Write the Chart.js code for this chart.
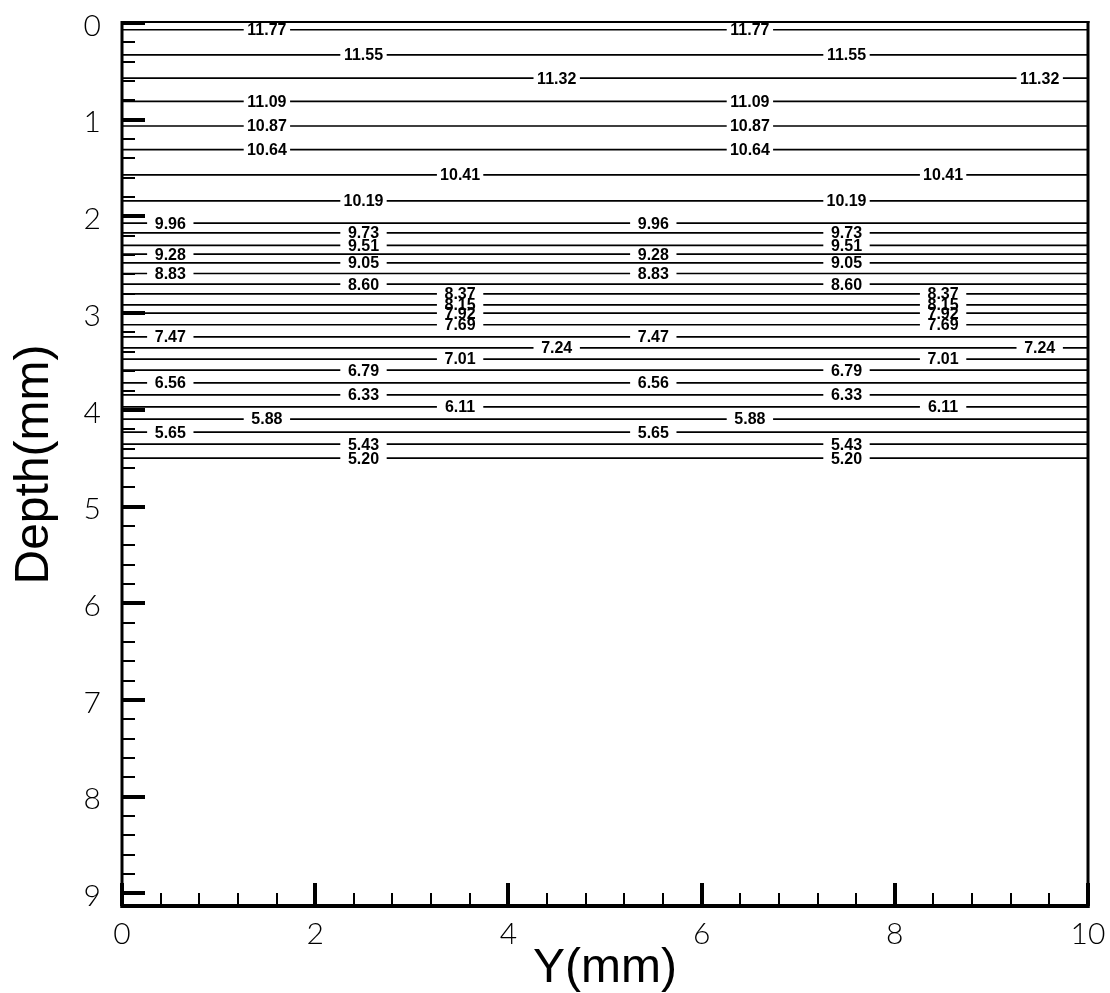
<!DOCTYPE html>
<html>
<head>
<meta charset="utf-8">
<title>Depth contours</title>
<script src="https://cdn.jsdelivr.net/npm/chart.js@4.4.0/dist/chart.umd.min.js"></script>
<style>
  html, body { margin: 0; padding: 0; background: #fff; }
  #wrap { width: 1110px; height: 993px; }
</style>
</head>
<body>
<div id="wrap"><canvas id="chart" width="1110" height="993"></canvas></div>
<script>
// Contour levels, top to bottom
const levels = ['11.77', '11.55', '11.32', '11.09', '10.87', '10.64', '10.41', '10.19',
  '9.96', '9.73', '9.51', '9.28', '9.05', '8.83', '8.60', '8.37', '8.15', '7.92', '7.69',
  '7.47', '7.24', '7.01', '6.79', '6.56', '6.33', '6.11', '5.88', '5.65', '5.43', '5.20'];

// Depth (mm) of each contour line
const depths = [0.07, 0.33, 0.57, 0.81, 1.065, 1.31, 1.57, 1.84,
  2.07, 2.17, 2.30, 2.39, 2.48, 2.59, 2.70, 2.80, 2.915, 3.0, 3.12,
  3.245, 3.36, 3.475, 3.59, 3.72, 3.845, 3.97, 4.095, 4.23, 4.355, 4.50];

// Y (mm) of the first inline label on each contour; the second sits 5 mm further on
const firstLabelY = [1.5, 2.5, 4.5, 1.5, 1.5, 1.5, 3.5, 2.5,
  0.5, 2.5, 2.5, 0.5, 2.5, 0.5, 2.5, 3.5, 3.5, 3.5, 3.5,
  0.5, 4.5, 3.5, 2.5, 0.5, 2.5, 3.5, 1.5, 0.5, 2.5, 2.5];
const labelSpacing = 5;

// Axis extents and tick labels
const yRange = [0, 10];
const depthRange = [0, 9.13];
const yTickLabels = [0, 2, 4, 6, 8, 10];
const depthTickLabels = [0, 1, 2, 3, 4, 5, 6, 7, 8, 9];

const LABEL_GAP = 0.24;      // half-width of the break in a line around its label (mm)
const LABEL_FONT = 'bold 16px "Liberation Sans", Arial, sans-serif';
const TICK_FONT = { family: 'Lato, "Liberation Sans", sans-serif', size: 30, weight: '300' };
const TITLE_FONT = { family: '"Liberation Sans", Arial, sans-serif', size: 48, weight: 'normal', lineHeight: 1 };

function labelPositions(i) {
  return [firstLabelY[i], firstLabelY[i] + labelSpacing];
}

// Each contour is a flat line broken where its labels sit
const datasets = levels.map((lvl, i) => {
  const d = depths[i];
  const pts = [{ x: yRange[0], y: d }];
  labelPositions(i).forEach(p => {
    pts.push({ x: p - LABEL_GAP, y: d });
    pts.push({ x: p, y: null });
    pts.push({ x: p + LABEL_GAP, y: d });
  });
  pts.push({ x: yRange[1], y: d });
  return {
    label: lvl,
    data: pts,
    borderColor: '#000',
    borderWidth: 1.7,
    pointRadius: 0,
    spanGaps: false,
    tension: 0,
    fill: false
  };
});

// Inline contour value labels
const contourLabels = {
  id: 'contourLabels',
  afterDatasetsDraw(chart) {
    const { ctx, scales: { x, y } } = chart;
    ctx.save();
    ctx.font = LABEL_FONT;
    ctx.fillStyle = '#000';
    ctx.textAlign = 'center';
    ctx.textBaseline = 'middle';
    levels.forEach((lvl, i) => {
      const py = y.getPixelForValue(depths[i]);
      labelPositions(i).forEach(p => {
        ctx.fillText(lvl, x.getPixelForValue(p), py + 1);
      });
    });
    ctx.restore();
  }
};

// Heavy frame with inward major and minor ticks
const frameTicks = {
  id: 'frameTicks',
  afterDraw(chart) {
    const { ctx, chartArea: a, scales: { x, y } } = chart;
    ctx.save();
    ctx.strokeStyle = '#000';
    ctx.lineCap = 'butt';
    const line = (x1, y1, x2, y2, w) => {
      ctx.lineWidth = w;
      ctx.beginPath();
      ctx.moveTo(x1, y1);
      ctx.lineTo(x2, y2);
      ctx.stroke();
    };
    // minor/major ticks along the depth axis
    for (let k = 0; k * 0.2 <= depthRange[1] + 1e-9; k++) {
      const v = k * 0.2;
      const major = k % 5 === 0;
      const py = Math.round(y.getPixelForValue(v));
      line(a.left, py, a.left + (major ? 23 : 13), py, major ? 4 : 2);
    }
    // minor/major ticks along the Y axis
    for (let k = 0; k * 0.4 <= yRange[1] + 1e-9; k++) {
      const v = k * 0.4;
      const major = k % 5 === 0;
      const px = Math.round(x.getPixelForValue(v));
      line(px, a.bottom, px, a.bottom - (major ? 23 : 13), major ? 4 : 2);
    }
    // frame
    line(a.left, a.top - 1, a.right + 1.5, a.top - 1, 2);
    line(a.right, a.top - 2, a.right, a.bottom + 2, 3);
    line(a.left, a.top - 2, a.left, a.bottom + 2, 3);
    line(a.left - 1.5, a.bottom, a.right + 1.5, a.bottom, 4);
    ctx.restore();
  }
};

new Chart(document.getElementById('chart'), {
  type: 'line',
  data: { datasets },
  options: {
    responsive: false,
    animation: false,
    devicePixelRatio: 1,
    layout: { padding: { top: 23, right: 22, left: 0, bottom: 0 } },
    plugins: {
      legend: { display: false },
      tooltip: { enabled: false }
    },
    scales: {
      x: {
        type: 'linear',
        position: 'bottom',
        min: yRange[0],
        max: yRange[1],
        grid: { display: false, drawTicks: false },
        border: { display: false },
        afterBuildTicks: s => { s.ticks = yTickLabels.map(v => ({ value: v })); },
        afterFit: s => { s.height = 87; s.paddingLeft = 0; s.paddingRight = 0; },
        ticks: { color: '#000', font: TICK_FONT, padding: 10, maxRotation: 0, autoSkip: false },
        title: { display: true, text: 'Y(mm)', color: '#000', font: TITLE_FONT, padding: { top: 0, bottom: 0 } }
      },
      y: {
        type: 'linear',
        position: 'left',
        reverse: true,
        min: depthRange[0],
        max: depthRange[1],
        grid: { display: false, drawTicks: false },
        border: { display: false },
        afterBuildTicks: s => { s.ticks = depthTickLabels.map(v => ({ value: v })); },
        afterFit: s => { s.width = 122; s.paddingTop = 0; s.paddingBottom = 0; },
        ticks: { color: '#000', font: TICK_FONT, padding: 21, labelOffset: 3, autoSkip: false },
        title: { display: true, text: 'Depth(mm)', color: '#000', font: TITLE_FONT, padding: { top: 11, bottom: 0 } }
      }
    }
  },
  plugins: [contourLabels, frameTicks]
});
</script>
</body>
</html>
